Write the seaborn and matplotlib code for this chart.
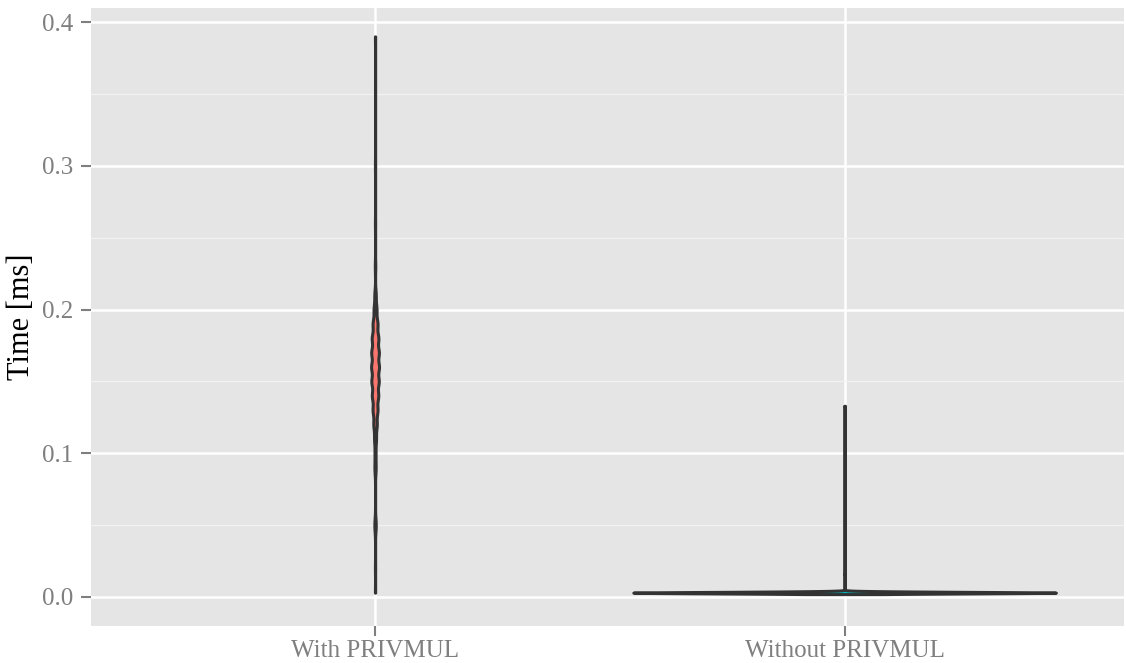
import numpy as np
import pandas as pd
import matplotlib
matplotlib.use("Agg")
import matplotlib.pyplot as plt
import seaborn as sns
from matplotlib.ticker import MultipleLocator

# Categories and colours (ggplot default hue palette)
groups = ["With PRIVMUL", "Without PRIVMUL"]
colors = ["#F8766D", "#00BFC4"]

with_times = [0.003, 0.02, 0.047, 0.05, 0.053, 0.088, 0.092, 0.10, 0.11, 0.12,
              0.13, 0.14, 0.15, 0.16, 0.17, 0.18, 0.19, 0.20, 0.21, 0.23,
              0.26, 0.30, 0.39]
with_counts = [1, 1, 2, 3, 2, 3, 3, 4, 8, 14,
               20, 26, 30, 32, 31, 27, 20, 12, 6, 2,
               1, 1, 1]

without_times = [0.002, 0.0025, 0.003, 0.0035, 0.004, 0.016, 0.133]
without_counts = [20, 150, 400, 150, 20, 1, 1]

y_ticks = [0.0, 0.1, 0.2, 0.3, 0.4]

df = pd.DataFrame({
    "group": [groups[0]] * sum(with_counts) + [groups[1]] * sum(without_counts),
    "time": np.concatenate([np.repeat(with_times, with_counts),
                            np.repeat(without_times, without_counts)]),
})

sns.set_theme(style="darkgrid")
plt.rcParams["font.family"] = ["Liberation Serif", "DejaVu Serif"]

fig = plt.figure(figsize=(11.26, 6.63), dpi=100)
ax = fig.add_axes([0.0808, 0.0558, 0.9174, 0.932])
ax.set_facecolor("#E5E5E5")

# no hue here so both violins share one area normalisation (like ggplot)
sns.violinplot(data=df, x="group", y="time", order=groups, color=colors[0],
               saturation=1, cut=0, inner=None, bw_adjust=0.3, gridsize=3000,
               width=0.9, linewidth=2.2, linecolor="#333333", ax=ax)
for coll, c in zip(ax.collections, colors):
    coll.set_facecolor(c)

ax.set_xlim(-0.605, 1.595)
ax.set_ylim(-0.0202, 0.4097)
ax.set_yticks(y_ticks)
ax.set_yticklabels([f"{t:.1f}" for t in y_ticks])
ax.yaxis.set_minor_locator(MultipleLocator(0.05))

# ggplot-like grid
ax.set_axisbelow(True)
ax.grid(which="major", color="white", linewidth=1.8)
ax.grid(which="minor", axis="y", color="#F2F2F2", linewidth=0.9)
for s in ax.spines.values():
    s.set_visible(False)

ax.tick_params(which="major", length=7.5, width=1.5, color="#7F7F7F",
               labelcolor="#7F7F7F", labelsize=18, left=True, bottom=True)
ax.tick_params(axis="y", which="major", pad=5)
ax.tick_params(axis="x", which="major", pad=2.5)
ax.tick_params(which="minor", length=0)

ax.set_xlabel("")
ax.set_ylabel("Time [ms]", fontsize=22, color="black")
ax.yaxis.set_label_coords(-0.053, 0.5)

fig.savefig("out.png", dpi=100)
